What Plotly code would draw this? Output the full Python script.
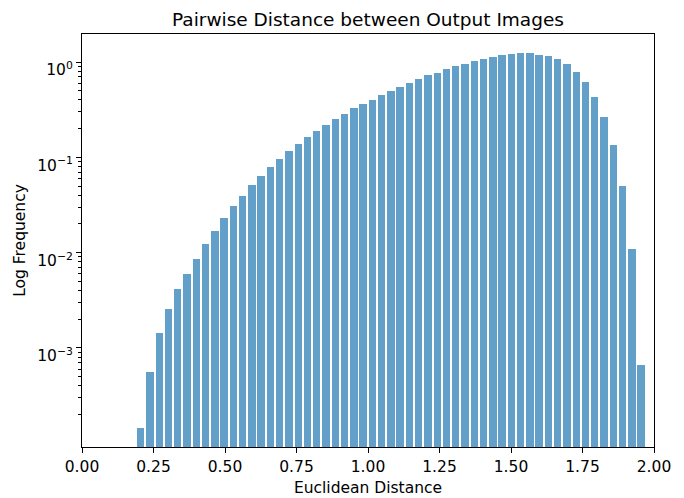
import numpy as np
import plotly.graph_objects as go

# Histogram bins (Euclidean distance)
bin_start = 0.189
bin_width = 0.0324
n_bins = 55

# Density per bin (log frequency)
density = [
    1.43e-4, 5.63e-4, 1.42e-3, 2.54e-3, 4.12e-3, 5.92e-3, 8.51e-3, 0.0123, 0.0170, 0.0231,
    0.0306, 0.0396, 0.0518, 0.0641, 0.0791, 0.0966, 0.1155, 0.138, 0.162, 0.189,
    0.218, 0.250, 0.285, 0.327, 0.362, 0.402, 0.451, 0.500, 0.544, 0.602,
    0.658, 0.725, 0.772, 0.845, 0.902, 0.960, 1.024, 1.083, 1.137, 1.175,
    1.205, 1.234, 1.234, 1.190, 1.150, 1.067, 0.946, 0.780, 0.612, 0.426,
    0.265, 0.135, 0.0504, 0.0109, 6.62e-4,
]

x_ticks = [0.0, 0.25, 0.5, 0.75, 1.0, 1.25, 1.5, 1.75, 2.0]
x_ticktext = ["0.00", "0.25", "0.50", "0.75", "1.00", "1.25", "1.50", "1.75", "2.00"]
y_ticks = [1e-3, 1e-2, 1e-1, 1e0]
y_ticktext = ["10<sup>−3</sup>", "10<sup>−2</sup>", "10<sup>−1</sup>", "10<sup>0</sup>"]

edges = bin_start + bin_width * np.arange(n_bins + 1)
centers = (edges[:-1] + edges[1:]) / 2

minor_vals = [m * 10.0 ** e for e in range(-5, 1) for m in range(2, 10)]

FONT = "DejaVu Sans"
TICK_SIZE = 15.5
LABEL_SIZE = 15.5
TITLE_SIZE = 18.5

fig = go.Figure()
fig.add_trace(go.Bar(
    x=centers,
    y=density,
    width=bin_width * 0.8,
    marker=dict(color="rgba(31,119,180,0.7)", line=dict(width=0)),
    showlegend=False,
))

fig.update_layout(
    width=684,
    height=498,
    margin=dict(l=82, r=30, t=34, b=51, autoexpand=False),
    paper_bgcolor="white",
    plot_bgcolor="white",
    font=dict(family=FONT, size=TICK_SIZE, color="black"),
    title=dict(
        text="Pairwise Distance between Output Images",
        x=0.5, xref="paper", xanchor="center",
        y=1 - 20 / 498, yref="container", yanchor="middle",
        font=dict(family=FONT, size=TITLE_SIZE, color="black"),
    ),
    bargap=0,
)

fig.update_xaxes(
    range=[0, 2],
    tickvals=x_ticks,
    ticktext=x_ticktext,
    ticks="outside",
    ticklen=5,
    tickcolor="black",
    showline=True,
    linecolor="black",
    linewidth=1,
    mirror=True,
    showgrid=False,
    zeroline=False,
    automargin=False,
    tickfont=dict(family=FONT, size=TICK_SIZE),
    title=dict(text="Euclidean Distance", font=dict(family=FONT, size=LABEL_SIZE), standoff=7),
)

fig.update_yaxes(
    type="log",
    range=[-4.04, 0.294],
    tickvals=y_ticks,
    ticktext=y_ticktext,
    ticks="outside",
    ticklen=5,
    tickcolor="black",
    ticklabelshift=8,
    minor=dict(ticks="outside", ticklen=3, tickcolor="black", tickvals=minor_vals, showgrid=False),
    showline=True,
    linecolor="black",
    linewidth=1,
    mirror=True,
    showgrid=False,
    zeroline=False,
    automargin=False,
    tickfont=dict(family=FONT, size=TICK_SIZE),
    title=dict(text="Log Frequency", font=dict(family=FONT, size=LABEL_SIZE), standoff=7),
)

fig.write_html("out.html")
